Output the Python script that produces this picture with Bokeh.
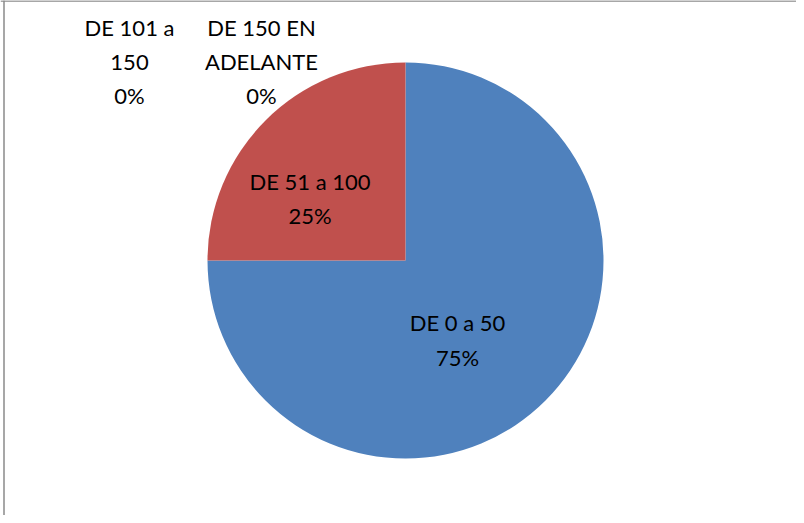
import math
from bokeh.plotting import figure
from bokeh.models import ColumnDataSource, Span
from bokeh.core.properties import value
from bokeh.embed import file_html
from bokeh.resources import INLINE

# Data
categories = ["DE 0 a 50", "DE 51 a 100", "DE 101 a 150", "DE 150 EN ADELANTE"]
label_names = ["DE 0 a 50", "DE 51 a 100", "DE 101 a\n150", "DE 150 EN\nADELANTE"]
percents = [75, 25, 0, 0]
colors = ["#4F81BD", "#C0504D", "#9BBB59", "#8064A2"]

# Layout (pixel-like data units, pie centred at 0,0)
R = 198
label_x = [52, -95.5, -276, -144]
label_y = [-79.5, 62, 199, 199]

total = sum(percents)
starts, ends = [], []
acc = 0.0
for v in percents:
    a0 = math.pi / 2 - 2 * math.pi * acc / total
    acc += v
    a1 = math.pi / 2 - 2 * math.pi * acc / total
    starts.append(a0)
    ends.append(a1)

p = figure(width=796, height=515, x_range=(-405, 391), y_range=(-255, 260),
           output_backend="svg", toolbar_location=None, min_border=0)
p.axis.visible = False
p.grid.visible = False
p.outline_line_color = None
p.background_fill_color = "white"

nz = [i for i, v in enumerate(percents) if v > 0]
wsrc = ColumnDataSource(dict(start=[starts[i] for i in nz], end=[ends[i] for i in nz],
                             color=[colors[i] for i in nz]))
p.wedge(x=0, y=0, radius=R, start_angle="start", end_angle="end", direction="clock",
        fill_color="color", line_color=None, source=wsrc)

texts = [f"{n}\n{v}%" for n, v in zip(label_names, percents)]
tsrc = ColumnDataSource(dict(x=label_x, y=label_y, t=texts))
p.text(x="x", y="y", text="t", source=tsrc, text_align="center", text_baseline="middle",
       text_font=value("Lato"), text_font_size="22px", text_color="black",
       text_line_height=1.27)

p.add_layout(Span(location=259.5, dimension="width", line_color="#8a8a8a", line_width=1.5))
p.add_layout(Span(location=-401.5, dimension="height", line_color="#8a8a8a", line_width=1.5))

open("out.html", "w").write(file_html(p, INLINE))
